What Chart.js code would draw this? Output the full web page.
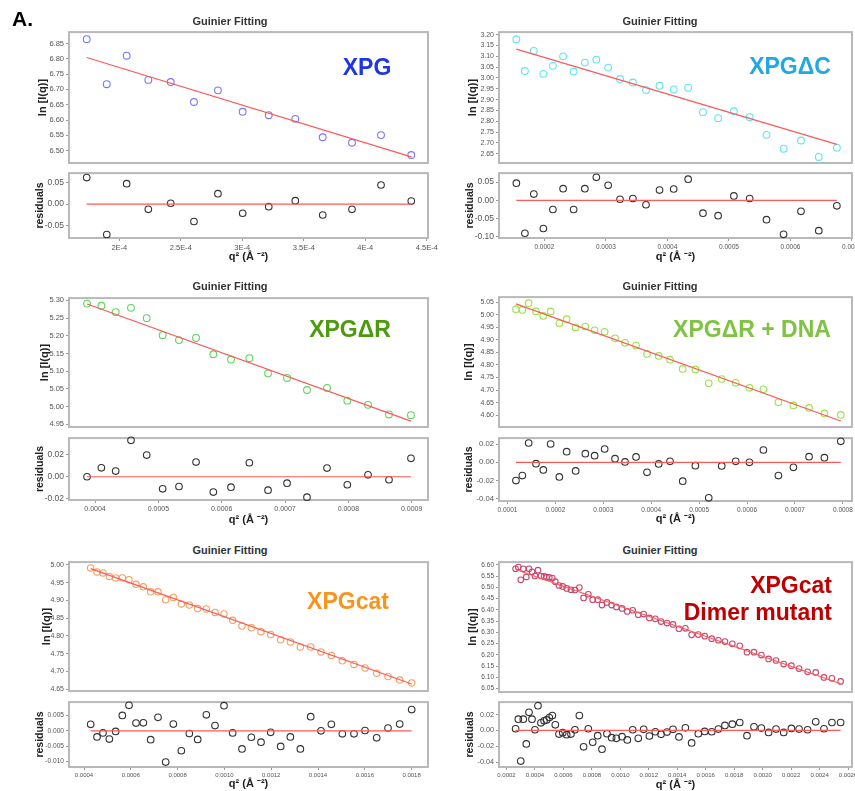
<!DOCTYPE html>
<html lang="en">
<head>
    <meta charset="UTF-8">
    <title>Guinier Fitting</title>
    <script src="https://cdn.jsdelivr.net/npm/chart.js"></script>
    <style>
        body {
            margin: 0;
            width: 855px;
            height: 791px;
            position: relative;
            overflow: hidden;
            background: #fff;
            font-family: "Liberation Sans", Arial, sans-serif;
        }
        canvas { position: absolute; }
        .lbl {
            position: absolute;
            white-space: nowrap;
            font-weight: bold;
            z-index: 2;
        }
        .title {
            font-size: 11px;
            color: #333;
            transform: translate(-50%, -50%);
        }
        .tag {
            font-size: 23px;
            line-height: 1;
            transform: translate(-50%, -50%);
        }
    </style>
</head>
<body>
<div class="lbl" style="left:12px;top:7px;font-size:21px;color:#000">A.</div>
<script>
    // XPG
    const xpgQ2 = [0.0001735, 0.0001898, 0.0002060, 0.0002236, 0.0002418, 0.0002607, 0.0002802,
        0.0003003, 0.0003215, 0.0003431, 0.0003654, 0.0003892, 0.0004128, 0.0004374];
    const xpgLnI = [6.864, 6.717, 6.810, 6.731, 6.724, 6.659, 6.697, 6.627, 6.616, 6.604, 6.544, 6.526, 6.551, 6.486];
    const xpgRes = [0.061, -0.070, 0.047, -0.012, 0.002, -0.040, 0.024, -0.021, -0.006, 0.008, -0.025, -0.012, 0.044, 0.007];
    const xpgFit = [6.804, 6.480];

    // XPG delta C
    const xpgdcQ2 = [0.0001545, 0.0001684, 0.0001829, 0.0001984, 0.0002139, 0.0002305, 0.0002476, 0.0002658,
        0.0002845, 0.0003037, 0.0003230, 0.0003439, 0.0003652, 0.0003872, 0.0004102, 0.0004337, 0.0004578,
        0.0004824, 0.0005080, 0.0005337, 0.0005610, 0.0005888, 0.0006171, 0.0006460, 0.0006754];
    const xpgdcLnI = [3.179, 3.032, 3.125, 3.019, 3.056, 3.100, 3.030, 3.071, 3.085, 3.048, 2.995, 2.979, 2.944,
        2.964, 2.947, 2.955, 2.842, 2.814, 2.846, 2.819, 2.737, 2.673, 2.711, 2.635, 2.678];
    const xpgdcRes = [0.047, -0.090, 0.017, -0.077, -0.025, 0.032, -0.025, 0.032, 0.063, 0.041, 0.003, 0.005, -0.012,
        0.028, 0.031, 0.058, -0.035, -0.042, 0.012, 0.005, -0.053, -0.093, -0.030, -0.083, -0.015];
    const xpgdcFit = [3.133, 2.693];

    // XPG delta R
    const xpgdrQ2 = [0.0003874, 0.0004100, 0.0004326, 0.0004568, 0.0004816, 0.0005068, 0.0005326, 0.0005595,
        0.0005868, 0.0006147, 0.0006437, 0.0006732, 0.0007032, 0.0007347, 0.0007663, 0.0007984, 0.0008311,
        0.0008642, 0.0008989];
    const xpgdrLnI = [5.291, 5.285, 5.267, 5.279, 5.250, 5.202, 5.188, 5.194, 5.148, 5.133, 5.137, 5.094, 5.081,
        5.047, 5.053, 5.017, 5.005, 4.978, 4.976];
    const xpgdrRes = [0.000, 0.0082, 0.0052, 0.0333, 0.0198, -0.0110, -0.0089, 0.0134, -0.0140, -0.0095, 0.0128,
        -0.0122, -0.0058, -0.0186, 0.0079, -0.0073, 0.0018, -0.0027, 0.0168];
    const xpgdrFit = [5.290, 4.959];

    // XPG delta R + DNA
    const xpgdnaQ2 = [0.0001177, 0.0001310, 0.0001442, 0.0001595, 0.0001748, 0.0001901, 0.0002082, 0.0002235,
        0.0002423, 0.0002625, 0.0002819, 0.0003028, 0.0003244, 0.0003453, 0.0003683, 0.0003912, 0.0004156,
        0.0004392, 0.0004657, 0.0004921, 0.0005200, 0.0005471, 0.0005763, 0.0006049, 0.0006341, 0.0006654,
        0.0006967, 0.0007294, 0.0007614, 0.0007956];
    const xpgdnaLnI = [5.022, 5.019, 5.046, 5.013, 4.995, 5.013, 4.966, 4.982, 4.949, 4.953, 4.938, 4.932, 4.906,
        4.888, 4.877, 4.844, 4.836, 4.821, 4.784, 4.782, 4.727, 4.744, 4.729, 4.709, 4.703, 4.652, 4.639, 4.629,
        4.607, 4.601];
    const xpgdnaRes = [-0.0201, -0.0146, 0.0212, -0.0015, -0.0084, 0.0201, -0.0161, 0.0117, -0.0095, 0.0095,
        0.0073, 0.0146, 0.0040, 0.0004, 0.0059, -0.0110, -0.0018, 0.0011, -0.0208, -0.0037, -0.0391, -0.0040,
        0.0011, 0.0000, 0.0135, -0.0146, -0.0055, 0.0062, 0.0051, 0.0230];
    const xpgdnaFit = [5.043, 4.577];

    // XPGcat
    const catQ2 = [0.0004285, 0.0004556, 0.0004812, 0.0005083, 0.0005353, 0.0005638, 0.0005923, 0.0006222,
        0.0006536, 0.0006849, 0.0007162, 0.0007490, 0.0007818, 0.0008160, 0.0008501, 0.0008858, 0.0009228,
        0.0009598, 0.0009983, 0.0010353, 0.0010752, 0.0011151, 0.0011564, 0.0011977, 0.0012405, 0.0012818,
        0.0013245, 0.0013687, 0.0014128, 0.0014570, 0.0015040, 0.0015538, 0.0016009, 0.0016507, 0.0016991,
        0.0017490, 0.0018003];
    const catLnI = [4.991, 4.980, 4.977, 4.967, 4.963, 4.963, 4.958, 4.945, 4.938, 4.924, 4.924, 4.902, 4.908,
        4.890, 4.887, 4.877, 4.876, 4.866, 4.862, 4.844, 4.828, 4.823, 4.812, 4.804, 4.789, 4.783, 4.769, 4.769,
        4.755, 4.745, 4.730, 4.720, 4.710, 4.695, 4.686, 4.676, 4.668];
    const catRes = [0.0021, -0.0020, -0.0007, -0.0027, -0.0002, 0.0050, 0.0083, 0.0025, 0.0026, -0.0029, 0.0044,
        -0.0102, 0.0022, -0.0065, -0.0009, -0.0028, 0.0052, 0.0017, 0.0082, -0.0007, -0.0059, -0.0021, -0.0037,
        -0.0005, -0.0051, -0.0020, -0.0059, 0.0046, 0.0000, 0.0021, -0.0010, -0.0010, 0.0001, -0.0023, 0.0009,
        0.0022, 0.0069];
    const catFit = [4.989, 4.665];

    // XPGcat dimer mutant
    const dimQ2 = [0.000264, 0.000283, 0.000300, 0.000318, 0.000339, 0.000358, 0.000379, 0.000400, 0.000421,
        0.000442, 0.000464, 0.000482, 0.000501, 0.000522, 0.000543, 0.000569, 0.000595, 0.000623, 0.000653,
        0.000681, 0.000712, 0.000742, 0.000775, 0.000806, 0.000841, 0.000871, 0.000906, 0.000939, 0.000972,
        0.001012, 0.001049, 0.001087, 0.001126, 0.001164, 0.001204, 0.001246, 0.001286, 0.001328, 0.001370,
        0.001412, 0.001457, 0.001501, 0.001548, 0.001593, 0.001642, 0.001689, 0.001735, 0.001787, 0.001839,
        0.001890, 0.001939, 0.001991, 0.002042, 0.002094, 0.002148, 0.002202, 0.002256, 0.002316, 0.002373,
        0.002431, 0.002487, 0.002548];
    const dimLnI = [6.582, 6.590, 6.533, 6.582, 6.546, 6.582, 6.569, 6.550, 6.576, 6.550, 6.548, 6.545, 6.544,
        6.541, 6.525, 6.508, 6.504, 6.495, 6.489, 6.488, 6.499, 6.453, 6.469, 6.445, 6.445, 6.421, 6.433, 6.421,
        6.413, 6.406, 6.393, 6.398, 6.378, 6.381, 6.364, 6.360, 6.348, 6.341, 6.335, 6.316, 6.318, 6.289, 6.290,
        6.283, 6.272, 6.265, 6.259, 6.249, 6.240, 6.212, 6.212, 6.199, 6.182, 6.175, 6.159, 6.152, 6.139, 6.125,
        6.122, 6.100, 6.096, 6.082];
    const dimRes = [0.0021, 0.0142, -0.0388, 0.0142, -0.0171, 0.0229, 0.0142, 0.0008, 0.0313, 0.0096, 0.0121,
        0.0133, 0.0163, 0.0188, 0.0071, -0.0046, -0.0029, -0.0054, -0.0046, 0.0008, 0.0188, -0.0208, 0.0021,
        -0.0150, -0.0067, -0.0238, -0.0042, -0.0092, -0.0100, -0.0079, -0.0121, 0.0008, -0.0100, 0.0013, -0.0071,
        -0.0017, -0.0050, -0.0021, 0.0013, -0.0083, 0.0033, -0.0158, -0.0042, -0.0013, -0.0017, 0.0017, 0.0063,
        0.0079, 0.0100, -0.0067, 0.0046, 0.0029, -0.0025, 0.0017, -0.0025, 0.0025, 0.0017, 0.0008, 0.0108,
        0.0021, 0.0100, 0.0100];
    const dimFit = [6.579, 6.072];

    const sciE4 = v => (Math.round(v * 1e5) / 10) + 'E-4';
    const fix4 = v => v.toFixed(4);

    const panels = [
        { q: xpgQ2, lnI: xpgLnI, res: xpgRes, fit: xpgFit, color: '#7878ff', tag: 'XPG', tagColor: '#1f35e8',
          main: {l: 69, t: 32, r: 428, b: 163}, rbox: {l: 69, t: 173, r: 428, b: 238},
          x: [1.591e-4, 4.510e-4, 5e-5, sciE4], y: [6.46, 6.887, 0.05, 2], rr: [-0.078, 0.0714, 0.05, 2],
          lnX: 43, resX: 40, qY: 257, title: [230, 21], tagPos: [367, 66], fs: [7.5, 8.5, 7.5], pr: 3.4 },
        { q: xpgdcQ2, lnI: xpgdcLnI, res: xpgdcRes, fit: xpgdcFit, color: '#5fe6f0', tag: 'XPG\u0394C', tagColor: '#1fa8e2',
          main: {l: 499, t: 32, r: 852, b: 163}, rbox: {l: 499, t: 173, r: 852, b: 238},
          x: [1.263e-4, 7.0001e-4, 1e-4, fix4], y: [2.607, 3.212, 0.05, 2], rr: [-0.103, 0.0745, 0.05, 2],
          lnX: 473, resX: 470, qY: 257, title: [660, 21], tagPos: [790, 65], fs: [7, 8.5, 6.5], pr: 3.4 },
        { q: xpgdrQ2, lnI: xpgdrLnI, res: xpgdrRes, fit: xpgdrFit, color: '#5ed45e', tag: 'XPG\u0394R', tagColor: '#4c9a0e',
          main: {l: 69, t: 298, r: 428, b: 427}, rbox: {l: 69, t: 438, r: 428, b: 500},
          x: [3.589e-4, 9.258e-4, 1e-4, fix4], y: [4.9425, 5.3066, 0.05, 2], rr: [-0.0212, 0.0353, 0.02, 2],
          lnX: 45, resX: 40, qY: 520, title: [230, 286], tagPos: [350, 328], fs: [7.5, 8.5, 7], pr: 3.4 },
        { q: xpgdnaQ2, lnI: xpgdnaLnI, res: xpgdnaRes, fit: xpgdnaFit, color: '#9be24a', tag: 'XPG\u0394R + DNA', tagColor: '#80c342',
          main: {l: 499, t: 297, r: 852, b: 427}, rbox: {l: 499, t: 438, r: 852, b: 501},
          x: [0.823e-4, 8.19e-4, 1e-4, fix4], y: [4.553, 5.070, 0.05, 2], rr: [-0.0426, 0.0266, 0.02, 2],
          lnX: 469, resX: 469, qY: 519, title: [660, 286], tagPos: [752, 328], fs: [7, 7.7, 6.5], pr: 3.3 },
        { q: catQ2, lnI: catLnI, res: catRes, fit: catFit, color: '#f5a060', tag: 'XPGcat', tagColor: '#f7941e',
          main: {l: 69, t: 562, r: 428, b: 691}, rbox: {l: 69, t: 702, r: 428, b: 767},
          x: [3.359e-4, 1.870e-3, 2e-4, fix4], y: [4.6453, 5.0075, 0.05, 2], rr: [-0.0118, 0.00935, 0.005, 3],
          lnX: 47, resX: 40, qY: 784, title: [230, 550], tagPos: [348, 600], fs: [7, 6.6, 6], pr: 3.2 },
        { q: dimQ2, lnI: dimLnI, res: dimRes, fit: dimFit, color: '#c8466e', tag: null, tagColor: '#c00000',
          main: {l: 499, t: 562, r: 852, b: 692}, rbox: {l: 499, t: 702, r: 852, b: 767},
          x: [1.473e-4, 2.628e-3, 2e-4, fix4], y: [6.0352, 6.6118, 0.05, 2], rr: [-0.0463, 0.0358, 0.02, 2],
          lnX: 473, resX: 470, qY: 785, title: [660, 550], tagPos: null, fs: [6.5, 7.2, 6], pr: 2.8 }
    ];

    Chart.defaults.font.family = '"Liberation Sans", Arial, sans-serif';
    Chart.defaults.animation = false;

    const framePlugin = {
        id: 'frame',
        beforeDatasetsDraw(chart) {
            const a = chart.chartArea, ctx = chart.ctx;
            ctx.save();
            ctx.strokeStyle = '#b9b9b9';
            ctx.lineWidth = 2;
            ctx.strokeRect(a.left, a.top, a.right - a.left, a.bottom - a.top);
            ctx.restore();
        }
    };

    const Y_W = 44, PAD_T = 5, PAD_R = 16;

    function addChart(box, o) {
        const left = box.l - Y_W, top = box.t - PAD_T;
        const bottom = o.xH || 6;
        const w = Y_W + (box.r - box.l) + PAD_R;
        const h = PAD_T + (box.b - box.t) + bottom;
        const c = document.createElement('canvas');
        c.width = w;
        c.height = h;
        c.style.cssText = `left:${left}px;top:${top}px;width:${w}px;height:${h}px`;
        document.body.appendChild(c);

        const n = o.q.length;
        new Chart(c, {
            type: 'scatter',
            data: {
                datasets: [
                    {
                        data: [{x: o.q[0], y: o.lineY[0]}, {x: o.q[n - 1], y: o.lineY[1]}],
                        showLine: true, borderColor: '#ff5858', borderWidth: 1.2, pointRadius: 0, clip: false
                    },
                    {
                        data: o.q.map((x, i) => ({x: x, y: o.vals[i]})),
                        pointRadius: o.pr, pointBorderWidth: 1.1, pointBorderColor: o.color,
                        pointBackgroundColor: 'rgba(0,0,0,0)', clip: false
                    }
                ]
            },
            options: {
                responsive: false,
                events: [],
                layout: {padding: {top: PAD_T, right: PAD_R, left: 0, bottom: o.xH ? 0 : bottom}},
                plugins: {legend: {display: false}, tooltip: {enabled: false}},
                scales: {
                    x: {
                        type: 'linear', display: !!o.xH,
                        min: o.x[0], max: o.x[1],
                        border: {display: false},
                        grid: {drawOnChartArea: false, drawTicks: true, tickLength: 3, tickColor: '#999'},
                        ticks: {
                            stepSize: o.x[2], callback: o.x[3], includeBounds: false, maxTicksLimit: 40,
                            autoSkip: false, maxRotation: 0, minRotation: 0, padding: 2,
                            font: {size: o.fsX}, color: '#555'
                        },
                        title: {
                            display: !!o.xH, text: 'q\u00b2 (\u00c5 \u207b\u00b2)', color: '#222',
                            font: {size: 11, weight: 'bold'}, padding: {top: 0, bottom: o.xTitlePad || 0}
                        },
                        afterFit(s) { s.height = o.xH || 0; s.paddingLeft = 0; s.paddingRight = 0; }
                    },
                    y: {
                        type: 'linear',
                        min: o.y[0], max: o.y[1],
                        border: {display: false},
                        grid: {drawOnChartArea: false, drawTicks: true, tickLength: 3, tickColor: '#999'},
                        ticks: {
                            stepSize: o.y[2], callback: v => v.toFixed(o.y[3]), includeBounds: false,
                            maxTicksLimit: 40, autoSkip: false, padding: 2, font: {size: o.fsY}, color: '#555'
                        },
                        title: {
                            display: true, text: o.yTitle, color: '#222',
                            font: {size: o.yTitleSize, weight: 'bold'},
                            padding: {top: o.titleX - left - o.yTitleSize * 0.6, bottom: 0}
                        },
                        afterFit(s) { s.width = Y_W; s.paddingTop = 0; s.paddingBottom = 0; }
                    }
                }
            },
            plugins: [framePlugin]
        });
    }

    function addLabel(cls, text, x, y, style) {
        const d = document.createElement('div');
        d.className = 'lbl ' + cls;
        d.textContent = text;
        d.style.left = x + 'px';
        d.style.top = y + 'px';
        Object.assign(d.style, style || {});
        document.body.appendChild(d);
        return d;
    }

    panels.forEach(p => {
        addChart(p.main, {
            q: p.q, vals: p.lnI, lineY: p.fit, color: p.color, pr: p.pr,
            x: p.x, y: p.y, fsX: p.fs[2], fsY: p.fs[0],
            yTitle: 'ln [I(q)]', yTitleSize: 11, titleX: p.lnX
        });
        const xH = 28;
        addChart(p.rbox, {
            q: p.q, vals: p.res, lineY: [0, 0], color: '#333', pr: 3.3,
            x: p.x, y: p.rr, fsX: p.fs[2], fsY: p.fs[1],
            xH: xH, xTitlePad: p.rbox.b + xH - 6.6 - p.qY,
            yTitle: 'residuals', yTitleSize: 10.5, titleX: p.resX
        });
        addLabel('title', 'Guinier Fitting', p.title[0], p.title[1]);
        if (p.tag) {
            addLabel('tag', p.tag, p.tagPos[0], p.tagPos[1] + 1, {color: p.tagColor});
        }
    });

    // two-line label of the dimer mutant panel
    const dim = addLabel('', '', 0, 572, {
        left: 'auto', right: '23px', fontSize: '23px', lineHeight: '26.7px',
        textAlign: 'right', color: '#c00000'
    });
    dim.innerHTML = 'XPGcat<br>Dimer mutant';
</script>
</body>
</html>
